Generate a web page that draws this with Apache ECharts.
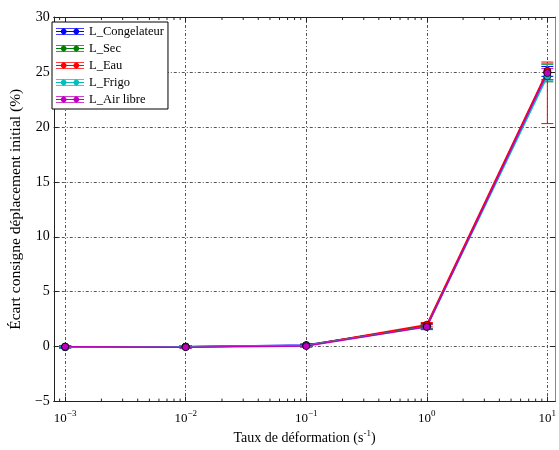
<!DOCTYPE html>
<html><head><meta charset="utf-8">
<script src="https://cdn.jsdelivr.net/npm/echarts@6/dist/echarts.min.js"></script>
<style>html,body{margin:0;padding:0;background:#fff}#c{width:559px;height:450px}</style>
</head><body><div id="c"></div>
<script>
// ---- data ----
const rates = [0.001, 0.01, 0.1, 1, 10];
const seriesNames = ['L_Congelateur', 'L_Sec', 'L_Eau', 'L_Frigo', 'L_Air libre'];
const congelateur = [-0.05, 0.0, 0.15, 1.85, 25.0];
const sec = [0.0, 0.0, 0.1, 1.9, 24.9];
const eau = [0.0, 0.0, 0.1, 2.0, 25.1];
const frigo = [-0.05, 0.0, 0.1, 1.8, 24.6];
const airLibre = [0.0, -0.05, 0.05, 1.8, 24.9];
// error bar limits (low, high)
const congelateurLow = [-0.15, -0.1, 0.05, 1.55, 24.6];
const congelateurHigh = [0.05, 0.1, 0.25, 2.1, 25.5];
const secLow = [-0.1, -0.1, 0.0, 1.65, 24.1];
const secHigh = [0.1, 0.1, 0.2, 2.05, 25.7];
const eauLow = [-0.1, -0.1, 0.0, 1.8, 20.3];
const eauHigh = [0.1, 0.1, 0.2, 2.2, 25.9];
const frigoLow = [-0.15, -0.1, 0.0, 1.6, 24.25];
const frigoHigh = [0.05, 0.1, 0.2, 2.0, 25.75];
const airLibreLow = [-0.1, -0.15, -0.05, 1.6, 24.3];
const airLibreHigh = [0.1, 0.05, 0.15, 2.0, 25.3];
const decadeTicks = [-3, -2, -1, 0, 1];
const yMin = -5, yMax = 30;

const colors = ['#0000ff', '#008000', '#ff0000', '#00bfbf', '#bf00bf'];
const values = [congelateur, sec, eau, frigo, airLibre];
const lows = [congelateurLow, secLow, eauLow, frigoLow, airLibreLow];
const highs = [congelateurHigh, secHigh, eauHigh, frigoHigh, airLibreHigh];

const xMin = -3.094, xMax = 1.065;
const minorTicks = [];
for (let d = -4; d <= 1; d++) for (let k = 2; k <= 9; k++) {
  const v = Math.log10(k) + d;
  if (v > xMin && v < xMax) minorTicks.push(v);
}

const serif = 'Liberation Serif';
const sup = v => String(v).replace('-', '\u2212');
const gridLine = { show: true, lineStyle: { color: '#555', type: [3, 2, 1, 2], width: 1 } };

const xBase = { type: 'value', min: xMin, max: xMax, gridIndex: 0 };
const xAxes = [
  Object.assign({}, xBase, {
    position: 'bottom',
    name: 'Taux de déformation (s{s|-1})',
    nameLocation: 'middle', nameGap: 24,
    nameTextStyle: { fontFamily: serif, fontSize: 14, color: '#000', rich: { s: { fontFamily: serif, fontSize: 9, color: '#000', padding: [0, 0, 8, 0] } } },
    axisLine: { show: true, onZero: false, lineStyle: { color: '#222', width: 1 } },
    axisTick: { show: true, inside: true, length: 5, customValues: decadeTicks, lineStyle: { color: '#222' } },
    axisLabel: {
      customValues: decadeTicks, margin: 8, fontFamily: serif, fontSize: 13, color: '#000',
      formatter: v => '10{s|' + sup(v) + '}',
      rich: { s: { fontFamily: serif, fontSize: 9, color: '#000', padding: [0, 0, 8, 0] } }
    },
    splitLine: gridLine
  }),
  Object.assign({}, xBase, {
    position: 'top',
    axisLine: { show: true, onZero: false, lineStyle: { color: '#222', width: 1 } },
    axisTick: { show: true, inside: true, length: 5, customValues: decadeTicks, lineStyle: { color: '#222' } },
    axisLabel: { show: false }, splitLine: { show: false }
  })
];

const yBase = { type: 'value', min: yMin, max: yMax, interval: 5 };
const yAxes = [
  Object.assign({}, yBase, {
    position: 'left',
    name: 'Écart consigne déplacement initial (%)',
    nameLocation: 'middle', nameGap: 27,
    nameTextStyle: { fontFamily: serif, fontSize: 15.5, color: '#000' },
    axisLine: { show: true, onZero: false, lineStyle: { color: '#222', width: 1 } },
    axisTick: { show: true, inside: true, length: 5, lineStyle: { color: '#222' } },
    axisLabel: { margin: 4, fontFamily: serif, fontSize: 14, color: '#000', formatter: v => sup(v) },
    splitLine: gridLine
  }),
  Object.assign({}, yBase, {
    position: 'right',
    axisLine: { show: true, onZero: false, lineStyle: { color: '#888', width: 1 } },
    axisTick: { show: true, inside: true, length: 5, lineStyle: { color: '#222' } },
    axisLabel: { show: false }, splitLine: { show: false }
  })
];

const series = [];
// minor log ticks on bottom and top axes
series.push({
  type: 'custom', xAxisIndex: 0, yAxisIndex: 0, z: 5, silent: true, clip: false,
  data: minorTicks.map(v => [v]),
  encode: { x: 0 },
  renderItem: (params, api) => {
    const v = api.value(0);
    const b = api.coord([v, yMin]);
    const t = api.coord([v, yMax]);
    const st = { stroke: '#222', lineWidth: 1 };
    return { type: 'group', children: [
      { type: 'line', shape: { x1: b[0], y1: b[1], x2: b[0], y2: b[1] - 3 }, style: st },
      { type: 'line', shape: { x1: t[0], y1: t[1], x2: t[0], y2: t[1] + 3 }, style: st }
    ] };
  }
});
seriesNames.forEach((name, i) => {
  series.push({
    name: name, type: 'custom', xAxisIndex: 0, yAxisIndex: 0, z: 2,
    data: rates.map((r, j) => [Math.log10(r), lows[i][j], highs[i][j]]),
    encode: { x: 0, y: [1, 2] },
    renderItem: (params, api) => {
      const x = api.value(0);
      const p1 = api.coord([x, api.value(1)]);
      const p2 = api.coord([x, api.value(2)]);
      const hw = 6;
      const st = { stroke: colors[i], lineWidth: 1 };
      return { type: 'group', children: [
        { type: 'line', shape: { x1: p1[0], y1: p1[1], x2: p2[0], y2: p2[1] }, style: st },
        { type: 'line', shape: { x1: p1[0] - hw, y1: p1[1], x2: p1[0] + hw, y2: p1[1] }, style: st },
        { type: 'line', shape: { x1: p2[0] - hw, y1: p2[1], x2: p2[0] + hw, y2: p2[1] }, style: st }
      ] };
    },
    silent: true
  });
});
seriesNames.forEach((name, i) => {
  series.push({
    name: name, type: 'line', xAxisIndex: 0, yAxisIndex: 0, z: 3,
    data: rates.map((r, j) => [Math.log10(r), values[i][j]]),
    symbol: 'circle', symbolSize: 7,
    lineStyle: { color: colors[i], width: 1.5 },
    itemStyle: { color: colors[i], borderColor: 'rgba(0,0,0,0.7)', borderWidth: 1 },
    animation: false
  });
});

const icon = 'path://M0,0H40V1H0Z M0,9H40V10H0Z M0,4.4H40V5.6H0Z M7,5A4,4 0 1 1 15,5A4,4 0 1 1 7,5Z M25,5A4,4 0 1 1 33,5A4,4 0 1 1 25,5Z';

const option = {
  animation: false,
  backgroundColor: '#fff',
  color: colors,
  grid: { left: 47.5, right: 2, top: 17, bottom: 37, containLabel: false },
  xAxis: xAxes,
  yAxis: yAxes,
  legend: {
    data: seriesNames.map((n, i) => ({ name: n, icon: icon, itemStyle: { color: colors[i], borderWidth: 0 } })),
    orient: 'vertical', left: 52, top: 22,
    itemWidth: 28, itemHeight: 11, itemGap: 4,
    padding: [3, 4, 3, 4],
    backgroundColor: '#fff', borderColor: '#000', borderWidth: 1,
    textStyle: { fontFamily: serif, fontSize: 12.5, color: '#000' },
    selectedMode: false
  },
  series: series
};
echarts.init(document.getElementById('c'), null, { renderer: 'canvas' }).setOption(option);
</script>
</body></html>
